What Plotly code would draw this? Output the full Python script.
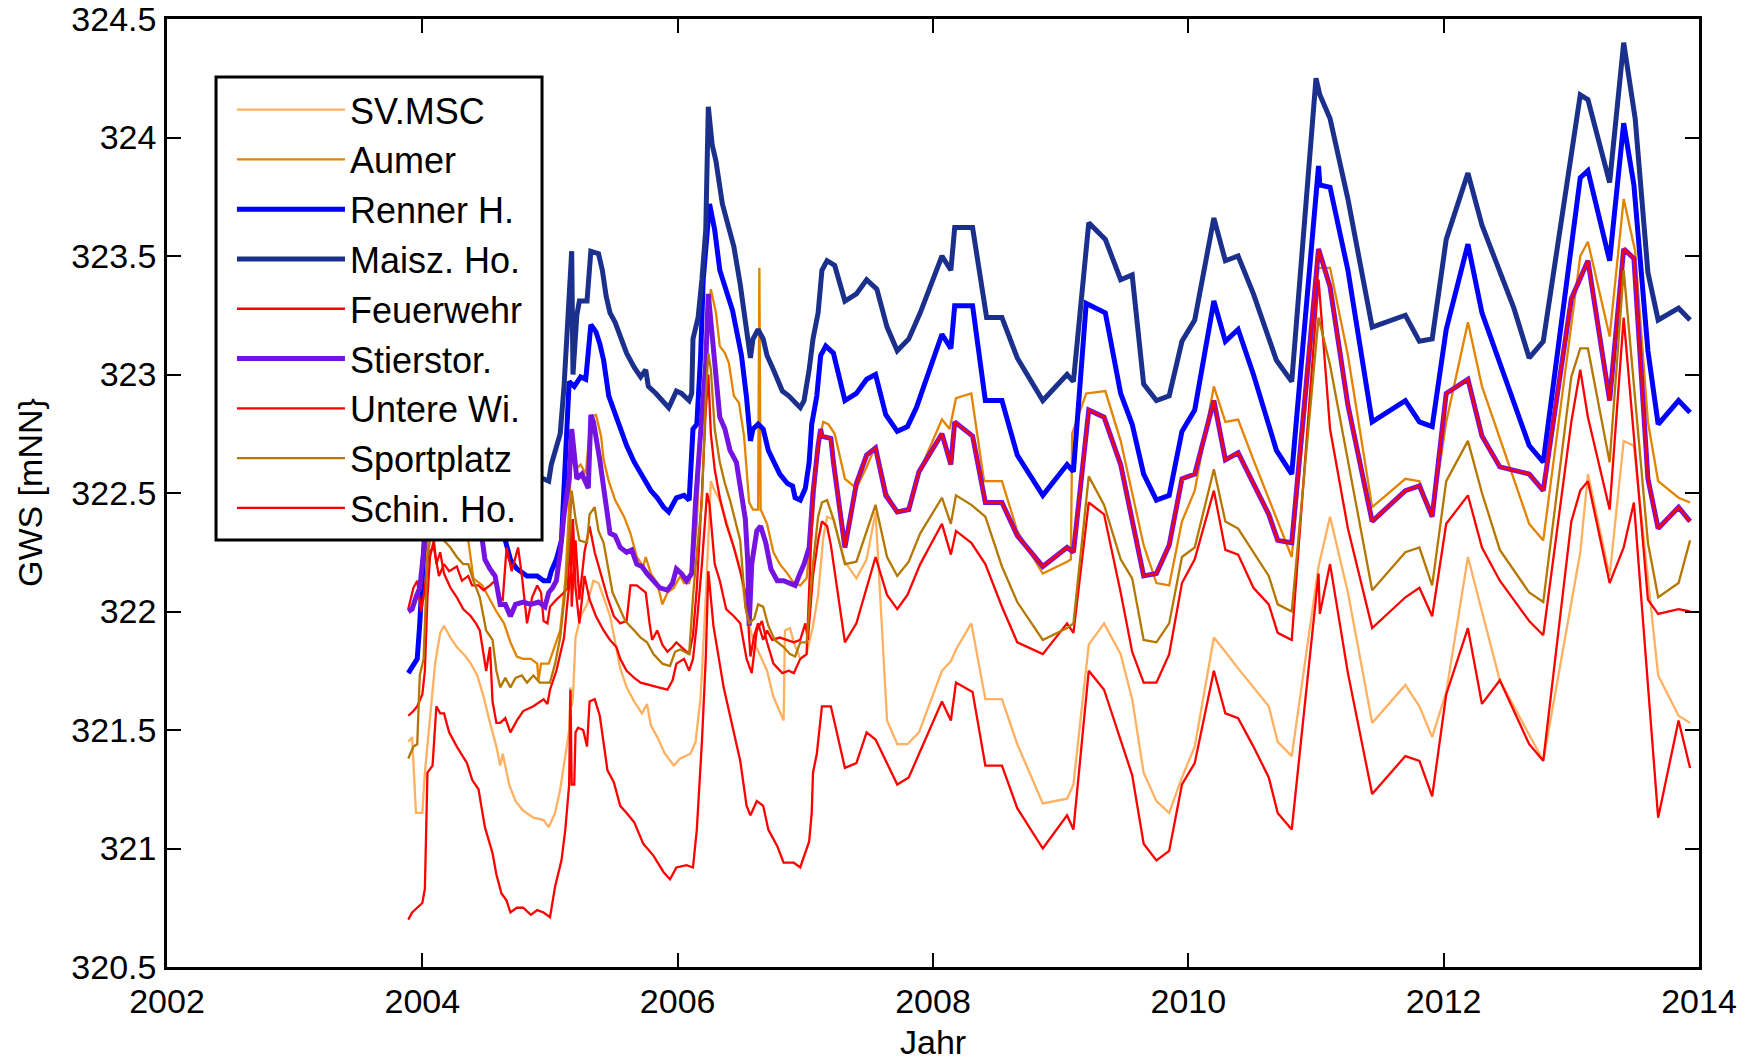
import plotly.graph_objects as go

# ---------------- data ----------------
sv_x = [2003.89,2003.92,2003.95,2004.00,2004.02,2004.06,2004.10,2004.14,2004.17,2004.22,2004.27,2004.34,2004.38,2004.43,2004.48,2004.53,2004.58,2004.61,2004.63,2004.68,2004.73,2004.79,2004.87,2004.95,2004.99,2005.04,2005.08,2005.12,2005.15,2005.16,2005.17,2005.18,2005.20,2005.24,2005.29,2005.34,2005.38,2005.42,2005.47,2005.50,2005.55,2005.60,2005.66,2005.72,2005.76,2005.79,2005.84,2005.90,2005.97,2006.02,2006.10,2006.14,2006.18,2006.22,2006.26,2006.28,2006.32,2006.37,2006.44,2006.49,2006.54,2006.59,2006.65,2006.70,2006.75,2006.80,2006.83,2006.84,2006.88,2006.91,2006.96,2007.01,2007.06,2007.10,2007.13,2007.14,2007.17,2007.22,2007.31,2007.40,2007.48,2007.55,2007.64,2007.72,2007.80,2007.89,2008.07,2008.14,2008.18,2008.30,2008.41,2008.54,2008.66,2008.86,2009.05,2009.10,2009.22,2009.34,2009.47,2009.56,2009.65,2009.75,2009.85,2009.95,2010.05,2010.20,2010.29,2010.39,2010.63,2010.70,2010.81,2011.02,2011.11,2011.25,2011.44,2011.70,2011.81,2011.91,2012.02,2012.19,2012.30,2012.44,2012.67,2012.78,2013.07,2013.13,2013.30,2013.41,2013.49,2013.68,2013.84,2013.93]
sv_y = [321.45,321.47,321.15,321.15,321.32,321.54,321.78,321.91,321.94,321.89,321.85,321.81,321.78,321.73,321.64,321.53,321.43,321.35,321.40,321.27,321.20,321.16,321.13,321.12,321.09,321.15,321.25,321.39,321.50,321.68,321.60,321.64,321.89,321.98,322.03,322.13,322.12,322.06,321.98,321.90,321.76,321.68,321.62,321.57,321.61,321.52,321.47,321.40,321.35,321.38,321.40,321.45,321.64,322.06,322.55,322.52,322.48,322.40,322.27,322.18,321.99,321.88,321.81,321.75,321.64,321.58,321.54,321.92,321.93,321.87,321.80,321.82,321.94,322.07,322.24,322.31,322.40,322.39,322.21,322.14,322.22,322.42,321.54,321.44,321.44,321.49,321.75,321.79,321.84,321.95,321.63,321.63,321.44,321.19,321.21,321.27,321.86,321.95,321.82,321.63,321.32,321.20,321.15,321.30,321.43,321.89,321.83,321.76,321.60,321.45,321.39,322.19,322.40,322.08,321.53,321.69,321.60,321.47,321.66,322.23,322.00,321.71,321.48,321.37,322.25,322.58,322.15,322.72,322.70,321.73,321.56,321.53]

aumer_x = [2004.02,2004.05,2004.15,2004.30,2004.36,2004.40,2004.47,2004.53,2004.58,2004.64,2004.69,2004.74,2004.79,2004.85,2004.90,2004.91,2004.93,2004.99,2005.03,2005.08,2005.12,2005.15,2005.17,2005.20,2005.24,2005.28,2005.32,2005.36,2005.40,2005.42,2005.46,2005.51,2005.58,2005.63,2005.68,2005.73,2005.75,2005.79,2005.84,2005.88,2005.92,2005.97,2006.02,2006.05,2006.09,2006.12,2006.15,2006.18,2006.22,2006.26,2006.30,2006.33,2006.37,2006.40,2006.44,2006.48,2006.52,2006.56,2006.59,2006.63,2006.64,2006.65,2006.70,2006.75,2006.80,2006.86,2006.91,2006.96,2007.01,2007.06,2007.10,2007.14,2007.18,2007.23,2007.31,2007.40,2007.48,2007.55,2007.64,2007.72,2007.81,2007.90,2008.07,2008.13,2008.18,2008.30,2008.40,2008.54,2008.66,2008.86,2009.05,2009.08,2009.09,2009.20,2009.35,2009.47,2009.56,2009.65,2009.75,2009.85,2009.95,2010.05,2010.20,2010.29,2010.39,2010.51,2010.81,2011.02,2011.11,2011.25,2011.44,2011.70,2011.81,2011.91,2012.02,2012.19,2012.30,2012.67,2012.78,2013.07,2013.13,2013.30,2013.41,2013.50,2013.60,2013.68,2013.84,2013.93]
aumer_y = [322.05,322.40,322.50,322.40,322.30,322.14,322.11,322.05,322.00,321.95,321.87,321.81,321.80,321.80,321.78,321.71,321.78,321.78,321.84,321.92,322.13,322.45,322.66,322.60,322.62,322.58,322.82,322.83,322.74,322.64,322.55,322.47,322.40,322.33,322.23,322.19,322.23,322.16,322.12,322.03,322.08,322.10,322.15,322.12,322.12,322.20,322.37,322.77,323.05,323.36,323.26,323.12,323.09,323.05,322.91,322.88,322.74,322.46,322.43,322.43,323.45,322.43,322.37,322.25,322.20,322.16,322.12,322.11,322.14,322.40,322.70,322.80,322.79,322.75,322.56,322.52,322.61,322.70,322.50,322.42,322.44,322.60,322.81,322.77,322.90,322.92,322.55,322.55,322.34,322.16,322.21,322.22,322.75,322.92,322.93,322.72,322.50,322.28,322.12,322.11,322.38,322.51,322.95,322.80,322.81,322.64,322.23,323.45,323.45,323.08,322.44,322.56,322.55,322.40,322.80,323.22,322.95,322.37,322.30,323.50,323.56,323.16,323.74,323.52,322.80,322.55,322.48,322.46]

renner_x = [2003.89,2003.92,2003.96,2003.98,2004.00,2004.02,2004.10,2004.30,2004.50,2004.65,2004.69,2004.74,2004.82,2004.90,2004.95,2004.99,2005.01,2005.05,2005.09,2005.12,2005.15,2005.19,2005.24,2005.28,2005.30,2005.32,2005.36,2005.39,2005.42,2005.46,2005.50,2005.55,2005.60,2005.66,2005.72,2005.79,2005.84,2005.89,2005.93,2005.99,2006.05,2006.09,2006.12,2006.15,2006.18,2006.20,2006.25,2006.29,2006.33,2006.37,2006.43,2006.50,2006.54,2006.57,2006.59,2006.63,2006.67,2006.71,2006.75,2006.80,2006.86,2006.90,2006.92,2006.96,2007.00,2007.03,2007.05,2007.09,2007.12,2007.16,2007.22,2007.31,2007.40,2007.48,2007.55,2007.63,2007.72,2007.80,2007.87,2008.07,2008.14,2008.17,2008.31,2008.41,2008.54,2008.66,2008.86,2009.05,2009.10,2009.20,2009.35,2009.47,2009.56,2009.65,2009.75,2009.85,2009.95,2010.05,2010.20,2010.29,2010.39,2010.51,2010.69,2010.81,2011.02,2011.03,2011.11,2011.25,2011.44,2011.70,2011.81,2011.91,2012.02,2012.19,2012.30,2012.67,2012.78,2013.07,2013.13,2013.30,2013.41,2013.49,2013.60,2013.68,2013.84,2013.93]
renner_y = [321.74,321.77,321.80,321.95,322.17,322.35,322.65,322.60,322.45,322.30,322.22,322.18,322.15,322.15,322.13,322.13,322.17,322.22,322.30,322.59,322.97,322.95,322.99,322.98,323.11,323.21,323.18,323.13,323.06,322.91,322.85,322.77,322.70,322.63,322.57,322.51,322.48,322.44,322.42,322.48,322.49,322.47,322.77,322.79,323.08,323.40,323.72,323.61,323.44,323.37,323.27,323.08,322.90,322.72,322.77,322.79,322.77,322.68,322.63,322.58,322.54,322.53,322.48,322.47,322.52,322.63,322.79,322.91,323.08,323.12,323.09,322.89,322.92,322.98,323.00,322.83,322.76,322.78,322.86,323.17,323.11,323.29,323.29,322.89,322.89,322.66,322.49,322.62,322.59,323.30,323.26,322.92,322.79,322.58,322.47,322.49,322.76,322.85,323.31,323.14,323.19,323.00,322.68,322.58,323.88,323.80,323.79,323.44,322.80,322.89,322.80,322.78,323.19,323.55,323.26,322.70,322.63,323.83,323.86,323.48,324.06,323.80,323.10,322.79,322.89,322.84]

maisz_x = [2004.85,2004.95,2004.99,2005.01,2005.08,2005.11,2005.17,2005.18,2005.21,2005.23,2005.29,2005.32,2005.38,2005.41,2005.44,2005.47,2005.51,2005.55,2005.60,2005.66,2005.71,2005.75,2005.77,2005.83,2005.89,2005.93,2005.99,2006.03,2006.09,2006.11,2006.12,2006.16,2006.19,2006.22,2006.24,2006.27,2006.30,2006.35,2006.40,2006.44,2006.49,2006.53,2006.57,2006.59,2006.63,2006.67,2006.70,2006.75,2006.82,2006.87,2006.91,2006.96,2006.99,2007.03,2007.06,2007.10,2007.13,2007.17,2007.23,2007.31,2007.40,2007.48,2007.56,2007.64,2007.72,2007.81,2007.90,2008.07,2008.14,2008.17,2008.31,2008.42,2008.54,2008.66,2008.86,2009.05,2009.10,2009.22,2009.35,2009.47,2009.56,2009.65,2009.75,2009.85,2009.95,2010.05,2010.20,2010.29,2010.39,2010.51,2010.69,2010.81,2011.00,2011.03,2011.11,2011.25,2011.44,2011.70,2011.81,2011.91,2012.02,2012.19,2012.30,2012.42,2012.55,2012.67,2012.78,2013.07,2013.13,2013.30,2013.41,2013.50,2013.60,2013.68,2013.84,2013.93]
maisz_y = [322.57,322.56,322.55,322.62,322.75,322.95,323.52,323.00,323.25,323.31,323.31,323.52,323.51,323.44,323.33,323.26,323.22,323.16,323.09,323.03,322.99,323.02,322.95,322.92,322.88,322.86,322.93,322.92,322.89,322.92,323.15,323.24,323.40,323.61,324.13,323.97,323.90,323.72,323.62,323.54,323.38,323.21,323.07,323.15,323.19,323.15,323.08,323.02,322.93,322.91,322.89,322.86,322.89,323.02,323.15,323.26,323.44,323.48,323.46,323.31,323.34,323.40,323.36,323.20,323.10,323.15,323.26,323.50,323.44,323.62,323.62,323.24,323.24,323.07,322.89,323.00,322.97,323.64,323.57,323.40,323.42,322.96,322.89,322.91,323.14,323.23,323.66,323.48,323.50,323.34,323.06,322.97,324.25,324.18,324.08,323.74,323.20,323.25,323.14,323.15,323.57,323.85,323.63,323.46,323.28,323.07,323.14,324.18,324.16,323.81,324.40,324.08,323.43,323.23,323.28,323.23]

feuer_x = [2003.89,2003.93,2003.96,2003.99,2004.02,2004.05,2004.09,2004.13,2004.17,2004.21,2004.27,2004.31,2004.36,2004.39,2004.44,2004.48,2004.53,2004.57,2004.60,2004.63,2004.66,2004.70,2004.75,2004.78,2004.82,2004.86,2004.90,2004.93,2004.95,2004.98,2005.00,2005.05,2005.11,2005.14,2005.16,2005.17,2005.20,2005.23,2005.27,2005.31,2005.35,2005.40,2005.45,2005.50,2005.55,2005.60,2005.63,2005.68,2005.75,2005.78,2005.80,2005.84,2005.88,2005.92,2005.96,2005.99,2006.05,2006.09,2006.12,2006.15,2006.19,2006.22,2006.24,2006.26,2006.29,2006.33,2006.38,2006.44,2006.49,2006.54,2006.57,2006.60,2006.63,2006.67,2006.70,2006.74,2006.80,2006.86,2006.91,2006.96,2007.00,2007.02,2007.06,2007.10,2007.13,2007.17,2007.20,2007.31,2007.40,2007.55,2007.64,2007.72,2007.80,2007.90,2008.07,2008.14,2008.18,2008.30,2008.41,2008.54,2008.66,2008.86,2009.05,2009.10,2009.22,2009.34,2009.47,2009.56,2009.65,2009.75,2009.85,2009.95,2010.05,2010.20,2010.29,2010.39,2010.51,2010.63,2010.70,2010.81,2011.02,2011.11,2011.25,2011.44,2011.70,2011.81,2011.91,2012.02,2012.19,2012.30,2012.44,2012.67,2012.78,2013.00,2013.07,2013.13,2013.30,2013.41,2013.60,2013.68,2013.84,2013.93]
feuer_y = [322.01,322.10,322.13,322.00,322.10,322.25,322.27,322.15,322.20,322.17,322.19,322.13,322.15,322.11,322.11,322.09,322.11,322.13,322.06,322.05,322.27,322.17,322.27,322.15,321.95,322.06,322.11,322.08,321.96,321.95,322.02,322.05,322.08,322.10,322.39,322.02,322.30,322.05,322.25,322.36,322.25,322.15,322.06,321.98,321.95,321.96,322.11,322.11,322.08,321.95,321.88,321.92,321.86,321.83,321.85,321.87,321.84,321.82,321.90,322.10,322.50,322.85,323.00,322.75,322.60,322.48,322.37,322.27,322.17,322.06,321.81,321.90,321.95,321.88,321.92,321.88,321.89,321.88,321.87,321.88,321.95,321.88,322.15,322.30,322.38,322.36,322.28,321.87,321.95,322.23,322.07,322.01,322.07,322.20,322.37,322.24,322.34,322.29,322.20,322.02,321.87,321.82,321.95,321.91,322.46,322.41,322.08,321.83,321.70,321.70,321.82,322.12,322.22,322.51,322.26,322.24,322.10,322.03,321.91,321.88,323.40,322.77,322.35,321.93,322.06,322.10,321.98,322.37,322.49,322.27,322.13,321.96,321.90,322.80,323.02,322.82,322.43,323.24,322.05,321.99,322.01,322.00]

stier_x = [2003.89,2003.92,2003.95,2003.98,2004.01,2004.05,2004.20,2004.35,2004.47,2004.49,2004.53,2004.57,2004.61,2004.65,2004.69,2004.73,2004.79,2004.85,2004.91,2004.96,2004.99,2005.02,2005.05,2005.08,2005.11,2005.15,2005.17,2005.19,2005.21,2005.25,2005.28,2005.30,2005.32,2005.34,2005.39,2005.42,2005.45,2005.47,2005.51,2005.55,2005.60,2005.64,2005.68,2005.72,2005.76,2005.81,2005.86,2005.92,2005.96,2005.99,2006.03,2006.07,2006.11,2006.14,2006.18,2006.22,2006.24,2006.27,2006.30,2006.33,2006.37,2006.41,2006.46,2006.50,2006.53,2006.55,2006.56,2006.58,2006.62,2006.65,2006.69,2006.73,2006.78,2006.83,2006.88,2006.92,2006.95,2006.99,2007.03,2007.06,2007.10,2007.12,2007.13,2007.20,2007.22,2007.31,2007.40,2007.48,2007.55,2007.63,2007.72,2007.81,2007.89,2008.07,2008.14,2008.17,2008.31,2008.41,2008.54,2008.66,2008.86,2009.05,2009.10,2009.22,2009.34,2009.47,2009.65,2009.75,2009.85,2009.95,2010.05,2010.20,2010.29,2010.39,2010.51,2010.63,2010.70,2010.81,2011.02,2011.11,2011.25,2011.44,2011.70,2011.81,2011.91,2012.02,2012.19,2012.30,2012.44,2012.67,2012.78,2013.00,2013.13,2013.30,2013.41,2013.49,2013.60,2013.68,2013.84,2013.93]
stier_y = [322.00,322.01,322.06,322.10,322.25,322.45,322.55,322.45,322.30,322.22,322.18,322.15,322.03,322.03,321.98,322.03,322.04,322.03,322.04,322.02,322.08,322.10,322.13,322.25,322.41,322.56,322.77,322.66,322.56,322.58,322.54,322.52,322.83,322.80,322.64,322.51,322.40,322.33,322.32,322.27,322.25,322.26,322.20,322.19,322.16,322.13,322.10,322.09,322.12,322.18,322.16,322.13,322.16,322.46,322.74,323.05,323.34,323.16,322.99,322.82,322.77,322.68,322.63,322.49,322.39,322.20,321.94,322.20,322.34,322.36,322.29,322.18,322.13,322.13,322.12,322.11,322.15,322.20,322.27,322.50,322.70,322.77,322.74,322.73,322.63,322.27,322.54,322.66,322.69,322.49,322.42,322.43,322.59,322.75,322.62,322.80,322.74,322.46,322.46,322.32,322.19,322.27,322.25,322.85,322.82,322.62,322.15,322.16,322.28,322.56,322.58,322.89,322.64,322.67,322.54,322.41,322.30,322.29,323.53,323.37,322.87,322.38,322.51,322.53,322.40,322.92,322.98,322.74,322.61,322.58,322.51,323.32,323.48,322.89,323.53,323.49,322.56,322.35,322.44,322.38]

untere_x = [2003.89,2003.93,2003.96,2004.00,2004.02,2004.04,2004.06,2004.09,2004.11,2004.14,2004.17,2004.22,2004.27,2004.32,2004.38,2004.42,2004.45,2004.50,2004.53,2004.55,2004.58,2004.61,2004.65,2004.69,2004.74,2004.79,2004.87,2004.95,2004.98,2005.00,2005.05,2005.11,2005.14,2005.17,2005.18,2005.20,2005.23,2005.27,2005.31,2005.36,2005.42,2005.47,2005.52,2005.55,2005.60,2005.66,2005.71,2005.79,2005.85,2005.92,2005.96,2005.99,2006.05,2006.09,2006.12,2006.15,2006.19,2006.23,2006.25,2006.29,2006.33,2006.38,2006.44,2006.49,2006.54,2006.58,2006.62,2006.66,2006.70,2006.75,2006.82,2006.87,2006.91,2006.96,2007.01,2007.06,2007.10,2007.12,2007.13,2007.20,2007.22,2007.31,2007.40,2007.48,2007.55,2007.63,2007.72,2007.81,2007.89,2008.07,2008.14,2008.17,2008.31,2008.41,2008.54,2008.66,2008.86,2009.05,2009.10,2009.22,2009.34,2009.47,2009.65,2009.75,2009.85,2009.95,2010.05,2010.20,2010.29,2010.39,2010.51,2010.63,2010.70,2010.81,2011.02,2011.11,2011.25,2011.44,2011.70,2011.81,2011.91,2012.02,2012.19,2012.30,2012.44,2012.67,2012.78,2013.00,2013.13,2013.30,2013.41,2013.49,2013.60,2013.68,2013.84,2013.93]
untere_y = [321.56,321.58,321.60,321.65,321.75,322.06,322.23,322.30,322.20,322.25,322.16,322.10,322.06,322.01,321.98,321.95,321.92,321.75,321.85,321.62,321.53,321.53,321.55,321.49,321.54,321.58,321.60,321.63,321.61,321.67,321.75,321.89,322.06,322.20,322.39,322.10,321.95,322.15,322.05,321.98,321.92,321.88,321.85,321.80,321.75,321.72,321.70,321.69,321.68,321.67,321.71,321.78,321.80,321.75,321.80,321.95,322.20,322.50,322.45,322.20,322.13,322.01,321.98,321.95,321.80,321.74,321.92,321.96,321.87,321.78,321.74,321.75,321.74,321.80,321.82,322.50,322.70,322.77,322.74,322.73,322.63,322.27,322.54,322.66,322.69,322.49,322.42,322.43,322.59,322.75,322.62,322.80,322.74,322.46,322.46,322.32,322.19,322.27,322.25,322.85,322.82,322.62,322.15,322.16,322.28,322.56,322.58,322.89,322.64,322.67,322.54,322.41,322.30,322.29,323.53,323.37,322.87,322.38,322.51,322.53,322.40,322.92,322.98,322.74,322.61,322.58,322.51,323.32,323.48,322.89,323.53,323.49,322.56,322.35,322.44,322.38]

sport_x = [2003.89,2003.93,2003.96,2003.98,2004.01,2004.04,2004.06,2004.11,2004.17,2004.22,2004.27,2004.32,2004.36,2004.40,2004.45,2004.50,2004.55,2004.58,2004.61,2004.65,2004.69,2004.73,2004.78,2004.82,2004.87,2004.92,2005.00,2005.04,2005.08,2005.12,2005.15,2005.17,2005.20,2005.23,2005.29,2005.31,2005.35,2005.38,2005.42,2005.45,2005.49,2005.54,2005.59,2005.66,2005.71,2005.76,2005.81,2005.88,2005.94,2005.98,2006.02,2006.09,2006.12,2006.15,2006.19,2006.22,2006.24,2006.26,2006.29,2006.33,2006.37,2006.41,2006.45,2006.49,2006.53,2006.56,2006.60,2006.63,2006.67,2006.71,2006.76,2006.83,2006.88,2006.92,2006.96,2007.01,2007.06,2007.10,2007.13,2007.17,2007.22,2007.31,2007.40,2007.55,2007.64,2007.72,2007.81,2007.90,2008.07,2008.14,2008.18,2008.30,2008.41,2008.54,2008.66,2008.86,2009.05,2009.10,2009.22,2009.34,2009.47,2009.56,2009.65,2009.75,2009.85,2009.95,2010.05,2010.20,2010.29,2010.39,2010.63,2010.70,2010.81,2011.02,2011.11,2011.25,2011.44,2011.70,2011.81,2011.91,2012.02,2012.19,2012.30,2012.44,2012.67,2012.78,2013.00,2013.07,2013.13,2013.30,2013.41,2013.60,2013.68,2013.84,2013.93]
sport_y = [321.38,321.43,321.44,321.73,321.80,322.23,322.30,322.34,322.30,322.27,322.23,322.20,322.20,322.13,322.06,321.92,321.88,321.75,321.68,321.72,321.68,321.72,321.73,321.70,321.73,321.70,321.70,321.78,321.89,322.09,322.30,322.51,322.39,322.30,322.29,322.41,322.44,322.34,322.29,322.20,322.08,322.02,321.96,321.92,321.89,321.87,321.82,321.78,321.77,321.83,321.84,321.82,322.06,322.25,322.46,322.91,323.09,323.02,322.77,322.63,322.54,322.47,322.39,322.30,322.02,321.95,321.97,322.03,322.02,321.94,321.88,321.85,321.82,321.81,321.87,321.87,322.20,322.40,322.46,322.47,322.39,322.20,322.21,322.45,322.23,322.15,322.21,322.33,322.48,322.37,322.49,322.45,322.40,322.19,322.04,321.88,321.93,321.95,322.57,322.45,322.22,322.14,321.88,321.87,321.95,322.23,322.27,322.60,322.38,322.35,322.15,322.03,322.00,323.24,323.04,322.64,322.09,322.25,322.27,322.11,322.55,322.72,322.50,322.26,322.08,322.04,322.99,323.11,323.11,322.63,323.44,322.29,322.06,322.12,322.30]

schin_x = [2003.89,2003.92,2003.96,2004.00,2004.02,2004.04,2004.08,2004.11,2004.14,2004.17,2004.21,2004.27,2004.35,2004.39,2004.44,2004.49,2004.55,2004.58,2004.62,2004.66,2004.69,2004.74,2004.79,2004.85,2004.90,2004.95,2005.00,2005.04,2005.09,2005.12,2005.15,2005.16,2005.17,2005.19,2005.20,2005.22,2005.26,2005.29,2005.31,2005.35,2005.39,2005.45,2005.50,2005.55,2005.60,2005.66,2005.73,2005.81,2005.89,2005.94,2005.99,2006.07,2006.12,2006.15,2006.19,2006.22,2006.24,2006.28,2006.36,2006.44,2006.49,2006.54,2006.57,2006.62,2006.67,2006.71,2006.78,2006.83,2006.91,2006.96,2007.01,2007.03,2007.05,2007.06,2007.09,2007.12,2007.13,2007.20,2007.31,2007.40,2007.48,2007.55,2007.72,2007.81,2008.07,2008.14,2008.18,2008.31,2008.41,2008.54,2008.66,2008.86,2009.05,2009.10,2009.22,2009.34,2009.47,2009.56,2009.65,2009.75,2009.85,2009.95,2010.05,2010.20,2010.29,2010.39,2010.51,2010.63,2010.70,2010.81,2011.02,2011.03,2011.11,2011.25,2011.44,2011.70,2011.81,2011.91,2012.02,2012.19,2012.30,2012.44,2012.67,2012.78,2013.00,2013.07,2013.13,2013.30,2013.41,2013.49,2013.68,2013.84,2013.93]
schin_y = [320.70,320.73,320.75,320.77,320.83,321.32,321.35,321.60,321.57,321.57,321.49,321.43,321.36,321.29,321.25,321.09,320.98,320.89,320.81,320.78,320.73,320.75,320.75,320.72,320.74,320.73,320.71,320.84,320.95,321.08,321.27,321.67,321.27,321.27,321.49,321.51,321.50,321.43,321.62,321.63,321.56,321.33,321.28,321.18,321.15,321.11,321.02,320.97,320.90,320.87,320.92,320.93,320.92,321.08,321.45,321.80,322.17,321.94,321.68,321.49,321.37,321.18,321.14,321.20,321.18,321.08,321.01,320.94,320.94,320.92,321.00,321.03,321.15,321.32,321.40,321.54,321.60,321.60,321.34,321.36,321.49,321.46,321.27,321.30,321.62,321.54,321.70,321.66,321.35,321.35,321.17,321.00,321.14,321.08,321.75,321.67,321.46,321.31,321.02,320.95,320.99,321.27,321.36,321.75,321.57,321.55,321.43,321.30,321.15,321.08,322.16,321.99,322.20,321.74,321.23,321.39,321.37,321.22,321.65,321.93,321.61,321.71,321.44,321.37,322.38,322.51,322.55,322.12,322.27,322.46,321.13,321.54,321.34]

names = ["SV.MSC", "Aumer", "Renner H.", "Maisz. Ho.", "Feuerwehr",
         "Stierstor.", "Untere Wi.", "Sportplatz", "Schin. Ho."]
xs = [sv_x, aumer_x, renner_x, maisz_x, feuer_x, stier_x, untere_x, sport_x, schin_x]
ys = [sv_y, aumer_y, renner_y, maisz_y, feuer_y, stier_y, untere_y, sport_y, schin_y]

x_ticks = [2002, 2004, 2006, 2008, 2010, 2012, 2014]
y_ticks = [320.5, 321, 321.5, 322, 322.5, 323, 323.5, 324, 324.5]
y_ticktext = ["320.5", "321", "321.5", "322", "322.5", "323", "323.5", "324", "324.5"]
x_title = "Jahr"
y_title = "GWS [mNN}"

# ---------------- styles ----------------
colors = ["#FFB060", "#E38300", "#0000FF", "#1B2F8C", "#FF0000",
          "#7514E2", "#FF0000", "#B57700", "#FF0000"]
widths = [2.3, 2.3, 5, 5, 2.3, 5, 2.3, 2.3, 2.3]

FONT = "Liberation Sans, Arial, Helvetica, sans-serif"

fig = go.Figure()
for i, (nm, xx, yy) in enumerate(zip(names, xs, ys)):
    fig.add_trace(go.Scatter(
        x=xx, y=yy, mode="lines", name=nm,
        line=dict(color=colors[i], width=widths[i]),
    ))

axis_common = dict(
    ticks="inside", ticklen=14, tickwidth=2, tickcolor="black",
    showline=True, linewidth=2.5, linecolor="black", mirror="ticks",
    showgrid=False, zeroline=False, automargin=False,
    ticklabeloverflow="allow",
    tickfont=dict(family=FONT, size=34, color="black"),
)

fig.update_layout(
    width=1753, height=1061,
    margin=dict(l=167, r=54, t=19, b=94, pad=0),
    paper_bgcolor="white", plot_bgcolor="white",
    font=dict(family=FONT, size=34, color="black"),
    showlegend=True,
    legend=dict(
        x=0.0424, y=0.936, xanchor="left", yanchor="top",
        bgcolor="rgba(0,0,0,0)", borderwidth=0,
        font=dict(family=FONT, size=36, color="black"),
        itemwidth=108, traceorder="normal",
    ),
    xaxis=dict(range=[2002, 2014], tickvals=x_ticks,
               ticktext=[str(v) for v in x_ticks],
               ticklabelstandoff=2, **axis_common),
    yaxis=dict(range=[320.5, 324.5], tickvals=y_ticks, ticktext=y_ticktext,
               ticklabelstandoff=1, **axis_common),
    shapes=[dict(
        type="rect", xref="paper", yref="paper",
        x0=0.0320, x1=0.2448, y0=0.4504, y1=0.9388,
        fillcolor="white", line=dict(color="black", width=3), layer="above",
    )],
    annotations=[
        dict(text=x_title, xref="paper", yref="paper", x=0.5, y=-0.0795,
             xanchor="center", yanchor="middle", showarrow=False,
             font=dict(family=FONT, size=34, color="black")),
        dict(text=y_title, xref="paper", yref="paper", x=-0.0894, y=0.5,
             xanchor="center", yanchor="middle", showarrow=False, textangle=-90,
             font=dict(family=FONT, size=34, color="black")),
    ],
)

fig.write_html(
    "out.html",
    config={"displayModeBar": False},
    post_script="document.body.style.margin='0';document.body.style.overflow='hidden';",
)
